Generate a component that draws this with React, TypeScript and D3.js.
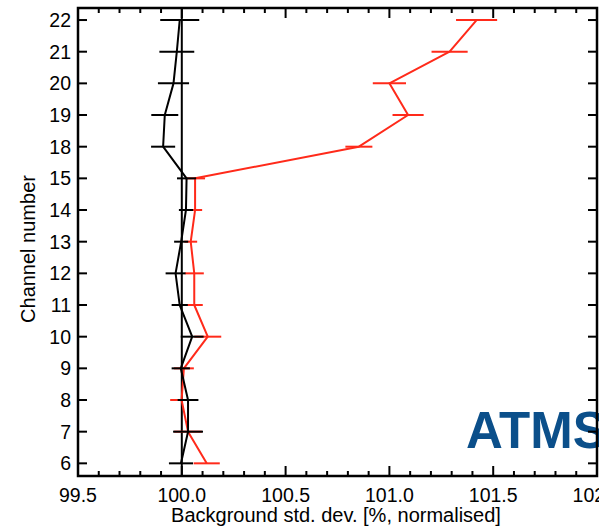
import React from "react";
import * as d3 from "d3";

const channels = ["6", "7", "8", "9", "10", "11", "12", "13", "14", "15", "18", "19", "20", "21", "22"];
const blackValues = [99.996, 100.03, 100.03, 99.995, 100.05, 99.99, 99.97, 99.997, 100.02, 100.023, 99.91, 99.918, 99.96, 99.976, 99.99];
const blackErrors = [0.058, 0.072, 0.05, 0.044, 0.055, 0.039, 0.048, 0.034, 0.034, 0.046, 0.058, 0.065, 0.075, 0.084, 0.094];
const redValues = [100.12, 100.03, 99.999, 100.01, 100.125, 100.06, 100.06, 100.043, 100.064, 100.064, 100.853, 101.09, 101.0, 101.29, 101.42];
const redErrors = [0.063, 0.067, 0.055, 0.048, 0.065, 0.041, 0.046, 0.031, 0.034, 0.048, 0.065, 0.075, 0.08, 0.087, 0.099];
const xTicks = [99.5, 100.0, 100.5, 101.0, 101.5, 102.0];
const xTickLabels = ["99.5", "100.0", "100.5", "101.0", "101.5", "102.0"];

const W = 599, H = 529;
const left = 78, right = 597, top = 8, bottom = 476;
const FONT = "'Liberation Sans', Arial, Helvetica, sans-serif";

export default function App() {
  const x = d3.scaleLinear().domain([99.5, 102]).range([left, right]);
  const y = d3.scaleLinear().domain([-0.4, channels.length - 1 + 0.38]).range([bottom, top]);
  const minor = d3.range(99.5, 102.0001, 0.1).map((v) => Math.round(v * 10) / 10);
  const line = d3.line<number>().x((d) => x(d)).y((_, i) => y(i));

  const series = [
    { vals: redValues, errs: redErrors, color: "#ff2a1a" },
    { vals: blackValues, errs: blackErrors, color: "#000000" },
  ];

  return (
    <svg width={W} height={H} style={{ position: "absolute", left: 0, top: 0, background: "#fff" }} fontFamily={FONT}>
      <rect x={0} y={0} width={W} height={H} fill="#fff" />
      <line x1={x(100)} x2={x(100)} y1={top} y2={bottom} stroke="#000" strokeWidth={2} />
      {series.map((s, si) => (
        <g key={si}>
          <path d={line(s.vals) || ""} fill="none" stroke={s.color} strokeWidth={2} strokeLinejoin="round" />
          {s.vals.map((v, i) => (
            <line key={i} x1={x(v - s.errs[i])} x2={x(v + s.errs[i])} y1={y(i)} y2={y(i)} stroke={s.color} strokeWidth={2} />
          ))}
        </g>
      ))}
      <text x={466} y={448} fontSize={51} fontWeight="bold" fill="#0b4f8a" fontFamily={FONT}>ATMS</text>
      <rect x={left} y={top} width={right - left} height={bottom - top} fill="none" stroke="#000" strokeWidth={2.5} />
      {minor.map((v, i) => {
        const major = xTicks.some((t) => Math.abs(t - v) < 1e-6);
        const len = major ? 10 : 5;
        return (
          <g key={i}>
            <line x1={x(v)} x2={x(v)} y1={bottom} y2={bottom - len} stroke="#000" strokeWidth={2} />
            <line x1={x(v)} x2={x(v)} y1={top} y2={top + len} stroke="#000" strokeWidth={2} />
          </g>
        );
      })}
      {xTicks.map((v, i) => (
        <text key={i} x={x(v)} y={502} textAnchor="middle" fontSize={19.5} fill="#000">{xTickLabels[i]}</text>
      ))}
      {channels.map((c, i) => (
        <g key={c}>
          <line x1={left} x2={left + 9} y1={y(i)} y2={y(i)} stroke="#000" strokeWidth={2} />
          <line x1={right} x2={right - 9} y1={y(i)} y2={y(i)} stroke="#000" strokeWidth={2} />
          <text x={71} y={y(i)} dy="0.36em" textAnchor="end" fontSize={19.5} fill="#000">{c}</text>
        </g>
      ))}
      <text x={336} y={522} textAnchor="middle" fontSize={20} fill="#000">Background std. dev. [%, normalised]</text>
      <text transform={`translate(35, 249) rotate(-90)`} textAnchor="middle" fontSize={20} fill="#000">Channel number</text>
    </svg>
  );
}
